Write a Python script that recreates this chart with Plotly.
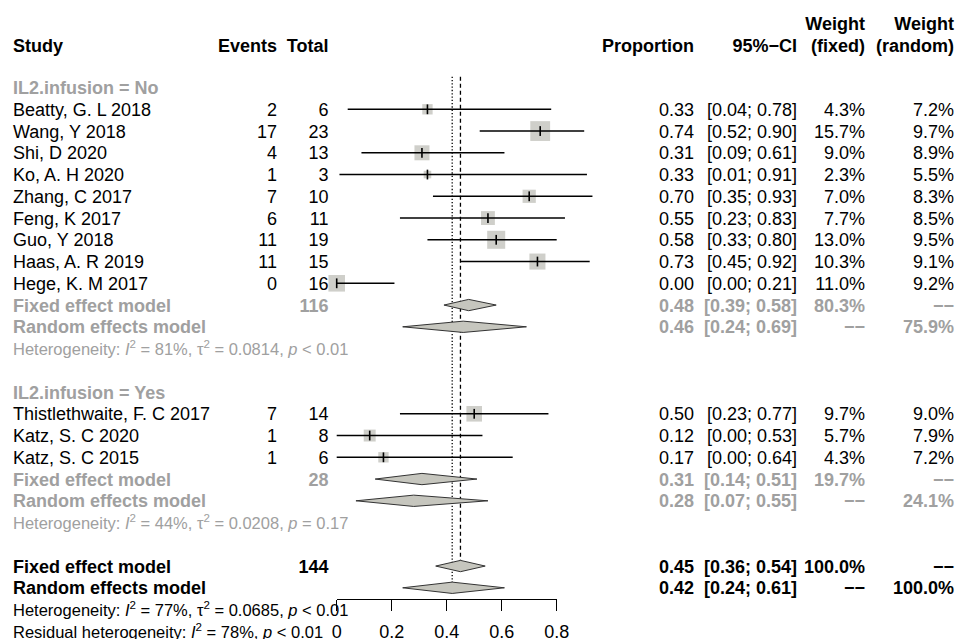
import math
import plotly.graph_objects as go

# ---------------- data ----------------
studies_no = ["Beatty, G. L 2018", "Wang, Y 2018", "Shi, D 2020", "Ko, A. H 2020",
              "Zhang, C 2017", "Feng, K 2017", "Guo, Y 2018", "Haas, A. R 2019",
              "Hege, K. M 2017"]
events_no = [2, 17, 4, 1, 7, 6, 11, 11, 0]
total_no = [6, 23, 13, 3, 10, 11, 19, 15, 16]
prop_no = [0.33, 0.74, 0.31, 0.33, 0.70, 0.55, 0.58, 0.73, 0.00]
lower_no = [0.04, 0.52, 0.09, 0.01, 0.35, 0.23, 0.33, 0.45, 0.00]
upper_no = [0.78, 0.90, 0.61, 0.91, 0.93, 0.83, 0.80, 0.92, 0.21]
wfixed_no = [4.3, 15.7, 9.0, 2.3, 7.0, 7.7, 13.0, 10.3, 11.0]
wrandom_no = [7.2, 9.7, 8.9, 5.5, 8.3, 8.5, 9.5, 9.1, 9.2]

studies_yes = ["Thistlethwaite, F. C 2017", "Katz, S. C 2020", "Katz, S. C 2015"]
events_yes = [7, 1, 1]
total_yes = [14, 8, 6]
prop_yes = [0.50, 0.12, 0.17]
lower_yes = [0.23, 0.00, 0.00]
upper_yes = [0.77, 0.53, 0.64]
wfixed_yes = [9.7, 5.7, 4.3]
wrandom_yes = [9.0, 7.9, 7.2]

group_labels = ["IL2.infusion = No", "IL2.infusion = Yes"]
group_total = [116, 28]
group_fixed_est = [0.48, 0.31]
group_fixed_lower = [0.39, 0.14]
group_fixed_upper = [0.58, 0.51]
group_fixed_weight = [80.3, 19.7]
group_random_est = [0.46, 0.28]
group_random_lower = [0.24, 0.07]
group_random_upper = [0.69, 0.55]
group_random_weight = [75.9, 24.1]
group_I2 = [81, 44]
group_tau2 = ["0.0814", "0.0208"]
group_p = ["&lt; 0.01", "= 0.17"]

overall_total = 144
overall_fixed = [0.45, 0.36, 0.54]      # estimate, lower, upper
overall_random = [0.42, 0.24, 0.61]
overall_weight = [100.0, 100.0]
overall_I2 = 77
overall_tau2 = "0.0685"
overall_p = "&lt; 0.01"
resid_I2 = 78
resid_p = "&lt; 0.01"

axis_ticks = [0, 0.2, 0.4, 0.6, 0.8]
axis_ticktext = ["0", "0.2", "0.4", "0.6", "0.8"]

# ---------------- geometry ----------------
W, H = 957, 639
X0PX, PXU = 336.7, 275.0        # pixel of x=0, pixels per unit
ROW0, ROWH = 87.55, 21.75       # pixel of row 0, row height
TXT_DY = 0.1                    # text baseline correction (rows)
FONT = "Liberation Sans, Arial, sans-serif"
FS = 18
FS_HET = 16.5
GRAY = "#a0a0a0"
BLACK = "#000000"
SQ = "#bbbbb3"
DIA = "#c6c6be"
DH = 0.26   # diamond half height (rows)
NA = "−−"


def px2x(px):
    return (px - X0PX) / PXU


cols = {
    "study": (13, "middle right"),
    "events": (277, "middle left"),
    "total": (328.5, "middle left"),
    "prop": (694, "middle left"),
    "ci": (797, "middle left"),
    "wf": (865, "middle left"),
    "wr": (954, "middle left"),
}
cells = {k: [] for k in cols}   # (row, text, color, size)


def put(col, r, text, color=BLACK, bold=False, size=FS):
    if bold:
        text = "<b>" + text + "</b>"
    cells[col].append((r + TXT_DY, text, color, size))


def het(I2, tau2, p):
    s = "Heterogeneity: <i>I</i><sup>2</sup> = %d%%" % I2
    if tau2 is not None:
        s += ", τ<sup>2</sup> = " + tau2
    s += ", <i>p</i> " + p
    return s


# header
for col, t in [("study", "Study"), ("events", "Events"), ("total", "Total"),
               ("prop", "Proportion"), ("ci", "95%−CI"), ("wf", "(fixed)"),
               ("wr", "(random)")]:
    put(col, -1.95, t, bold=True)
put("wf", -2.95, "Weight", bold=True)
put("wr", -2.95, "Weight", bold=True)

ci_x, ci_y, sq_x, sq_y, sq_s = [], [], [], [], []
diamonds = []   # (r, est, lo, hi)

groups = [
    (studies_no, events_no, total_no, prop_no, lower_no, upper_no, wfixed_no, wrandom_no),
    (studies_yes, events_yes, total_yes, prop_yes, lower_yes, upper_yes, wfixed_yes, wrandom_yes),
]
r = 0
for g, (st, ev, tot, pr, lo, hi, wf, wr) in enumerate(groups):
    put("study", r, group_labels[g], GRAY, bold=True)
    r += 1
    for i in range(len(st)):
        put("study", r, st[i])
        put("events", r, str(ev[i]))
        put("total", r, str(tot[i]))
        put("prop", r, "%.2f" % pr[i])
        put("ci", r, "[%.2f; %.2f]" % (lo[i], hi[i]))
        put("wf", r, "%.1f%%" % wf[i])
        put("wr", r, "%.1f%%" % wr[i])
        ci_x += [lo[i], hi[i], None]
        ci_y += [r, r, None]
        sq_x.append(pr[i])
        sq_y.append(r)
        sq_s.append(5.0 * math.sqrt(wf[i]))
        r += 1
    put("study", r, "Fixed effect model", GRAY, bold=True)
    put("total", r, str(group_total[g]), GRAY, bold=True)
    put("prop", r, "%.2f" % group_fixed_est[g], GRAY, bold=True)
    put("ci", r, "[%.2f; %.2f]" % (group_fixed_lower[g], group_fixed_upper[g]), GRAY, bold=True)
    put("wf", r, "%.1f%%" % group_fixed_weight[g], GRAY, bold=True)
    put("wr", r, NA, GRAY, bold=True)
    diamonds.append((r, group_fixed_est[g], group_fixed_lower[g], group_fixed_upper[g]))
    r += 1
    put("study", r, "Random effects model", GRAY, bold=True)
    put("prop", r, "%.2f" % group_random_est[g], GRAY, bold=True)
    put("ci", r, "[%.2f; %.2f]" % (group_random_lower[g], group_random_upper[g]), GRAY, bold=True)
    put("wf", r, NA, GRAY, bold=True)
    put("wr", r, "%.1f%%" % group_random_weight[g], GRAY, bold=True)
    diamonds.append((r, group_random_est[g], group_random_lower[g], group_random_upper[g]))
    r += 1
    put("study", r, het(group_I2[g], group_tau2[g], group_p[g]), GRAY, size=FS_HET)
    r += 2

row_fixed = r
put("study", r, "Fixed effect model", bold=True)
put("total", r, str(overall_total), bold=True)
put("prop", r, "%.2f" % overall_fixed[0], bold=True)
put("ci", r, "[%.2f; %.2f]" % (overall_fixed[1], overall_fixed[2]), bold=True)
put("wf", r, "%.1f%%" % overall_weight[0], bold=True)
put("wr", r, NA, bold=True)
diamonds.append((r, overall_fixed[0], overall_fixed[1], overall_fixed[2]))
r += 1
row_random = r
put("study", r, "Random effects model", bold=True)
put("prop", r, "%.2f" % overall_random[0], bold=True)
put("ci", r, "[%.2f; %.2f]" % (overall_random[1], overall_random[2]), bold=True)
put("wf", r, NA, bold=True)
put("wr", r, "%.1f%%" % overall_weight[1], bold=True)
diamonds.append((r, overall_random[0], overall_random[1], overall_random[2]))
r += 1
put("study", r, het(overall_I2, overall_tau2, overall_p), size=FS_HET)
r += 1
row_resid = r
put("study", r, "Residual " + het(resid_I2, None, resid_p).replace("Heterogeneity", "heterogeneity"),
    size=FS_HET)

fig = go.Figure()

# reference lines (fixed dashed, random dotted)
fig.add_trace(go.Scatter(x=[overall_fixed[0], overall_fixed[0]], y=[-0.5, row_fixed - DH],
                         mode="lines", line=dict(color="black", width=1.3, dash="4px,3px"),
                         hoverinfo="skip", showlegend=False))
fig.add_trace(go.Scatter(x=[overall_random[0], overall_random[0]], y=[-0.5, row_random - DH],
                         mode="lines", line=dict(color="black", width=1.3, dash="1.3px,2px"),
                         hoverinfo="skip", showlegend=False))

# squares
fig.add_trace(go.Scatter(x=sq_x, y=sq_y, mode="markers",
                         marker=dict(symbol="square", size=sq_s, color=SQ, line=dict(width=0)),
                         hoverinfo="skip", showlegend=False))
# CI lines
fig.add_trace(go.Scatter(x=ci_x, y=ci_y, mode="lines", line=dict(color="black", width=1.4),
                         hoverinfo="skip", showlegend=False))
# estimate ticks
fig.add_trace(go.Scatter(x=sq_x, y=sq_y, mode="markers",
                         marker=dict(symbol="line-ns", size=7, line=dict(width=1.6, color="black")),
                         hoverinfo="skip", showlegend=False))

# diamonds
for (rr, est, lo, hi) in diamonds:
    fig.add_trace(go.Scatter(x=[lo, est, hi, est, lo], y=[rr, rr - DH, rr, rr + DH, rr],
                             mode="lines", fill="toself", fillcolor=DIA,
                             line=dict(color="#333333", width=1),
                             hoverinfo="skip", showlegend=False))

# text columns
for col, (pxx, pos) in cols.items():
    entries = cells[col]
    fig.add_trace(go.Scatter(
        x=[px2x(pxx)] * len(entries), y=[e[0] for e in entries],
        text=[e[1] for e in entries], mode="text", textposition=pos,
        textfont=dict(family=FONT, size=[e[3] for e in entries], color=[e[2] for e in entries]),
        hoverinfo="skip", showlegend=False, cliponaxis=False))

# forest-axis tick labels (same data scale as the marks)
fig.add_trace(go.Scatter(x=axis_ticks, y=[row_resid + TXT_DY] * len(axis_ticks),
                         text=axis_ticktext, mode="text", textposition="middle center",
                         textfont=dict(family=FONT, size=FS, color="black"),
                         hoverinfo="skip", showlegend=False, cliponaxis=False))

# dummy trace for the forest axis line/ticks
fig.add_trace(go.Scatter(x=[axis_ticks[0], axis_ticks[-1]], y=[0, 0], xaxis="x2", yaxis="y",
                         mode="markers", marker=dict(opacity=0), hoverinfo="skip",
                         showlegend=False))

axis_y_px = ROW0 + 23.53 * ROWH
fig.update_layout(
    width=W, height=H, margin=dict(l=0, r=0, t=0, b=0, autoexpand=False),
    paper_bgcolor="white", plot_bgcolor="rgba(0,0,0,0)",
    xaxis=dict(domain=[0, 1], range=[-X0PX / PXU, (W - X0PX) / PXU], visible=False),
    yaxis=dict(domain=[0, 1], range=[(H - ROW0) / ROWH, -ROW0 / ROWH], visible=False),
    xaxis2=dict(domain=[X0PX / W, (X0PX + 0.8 * PXU) / W], range=[0, 0.8],
                anchor="free", position=1 - axis_y_px / H, side="bottom",
                showline=True, linecolor="black", linewidth=1.3,
                ticks="outside", ticklen=11, tickwidth=1.3, tickcolor="black",
                tickvals=axis_ticks, showticklabels=False, showgrid=False, zeroline=False,
                automargin=False),
    font=dict(family=FONT, size=FS, color="black"),
)

fig.write_html("out.html", config={"displayModeBar": False},
               post_script="document.body.style.margin='0';document.body.style.overflow='hidden';")
